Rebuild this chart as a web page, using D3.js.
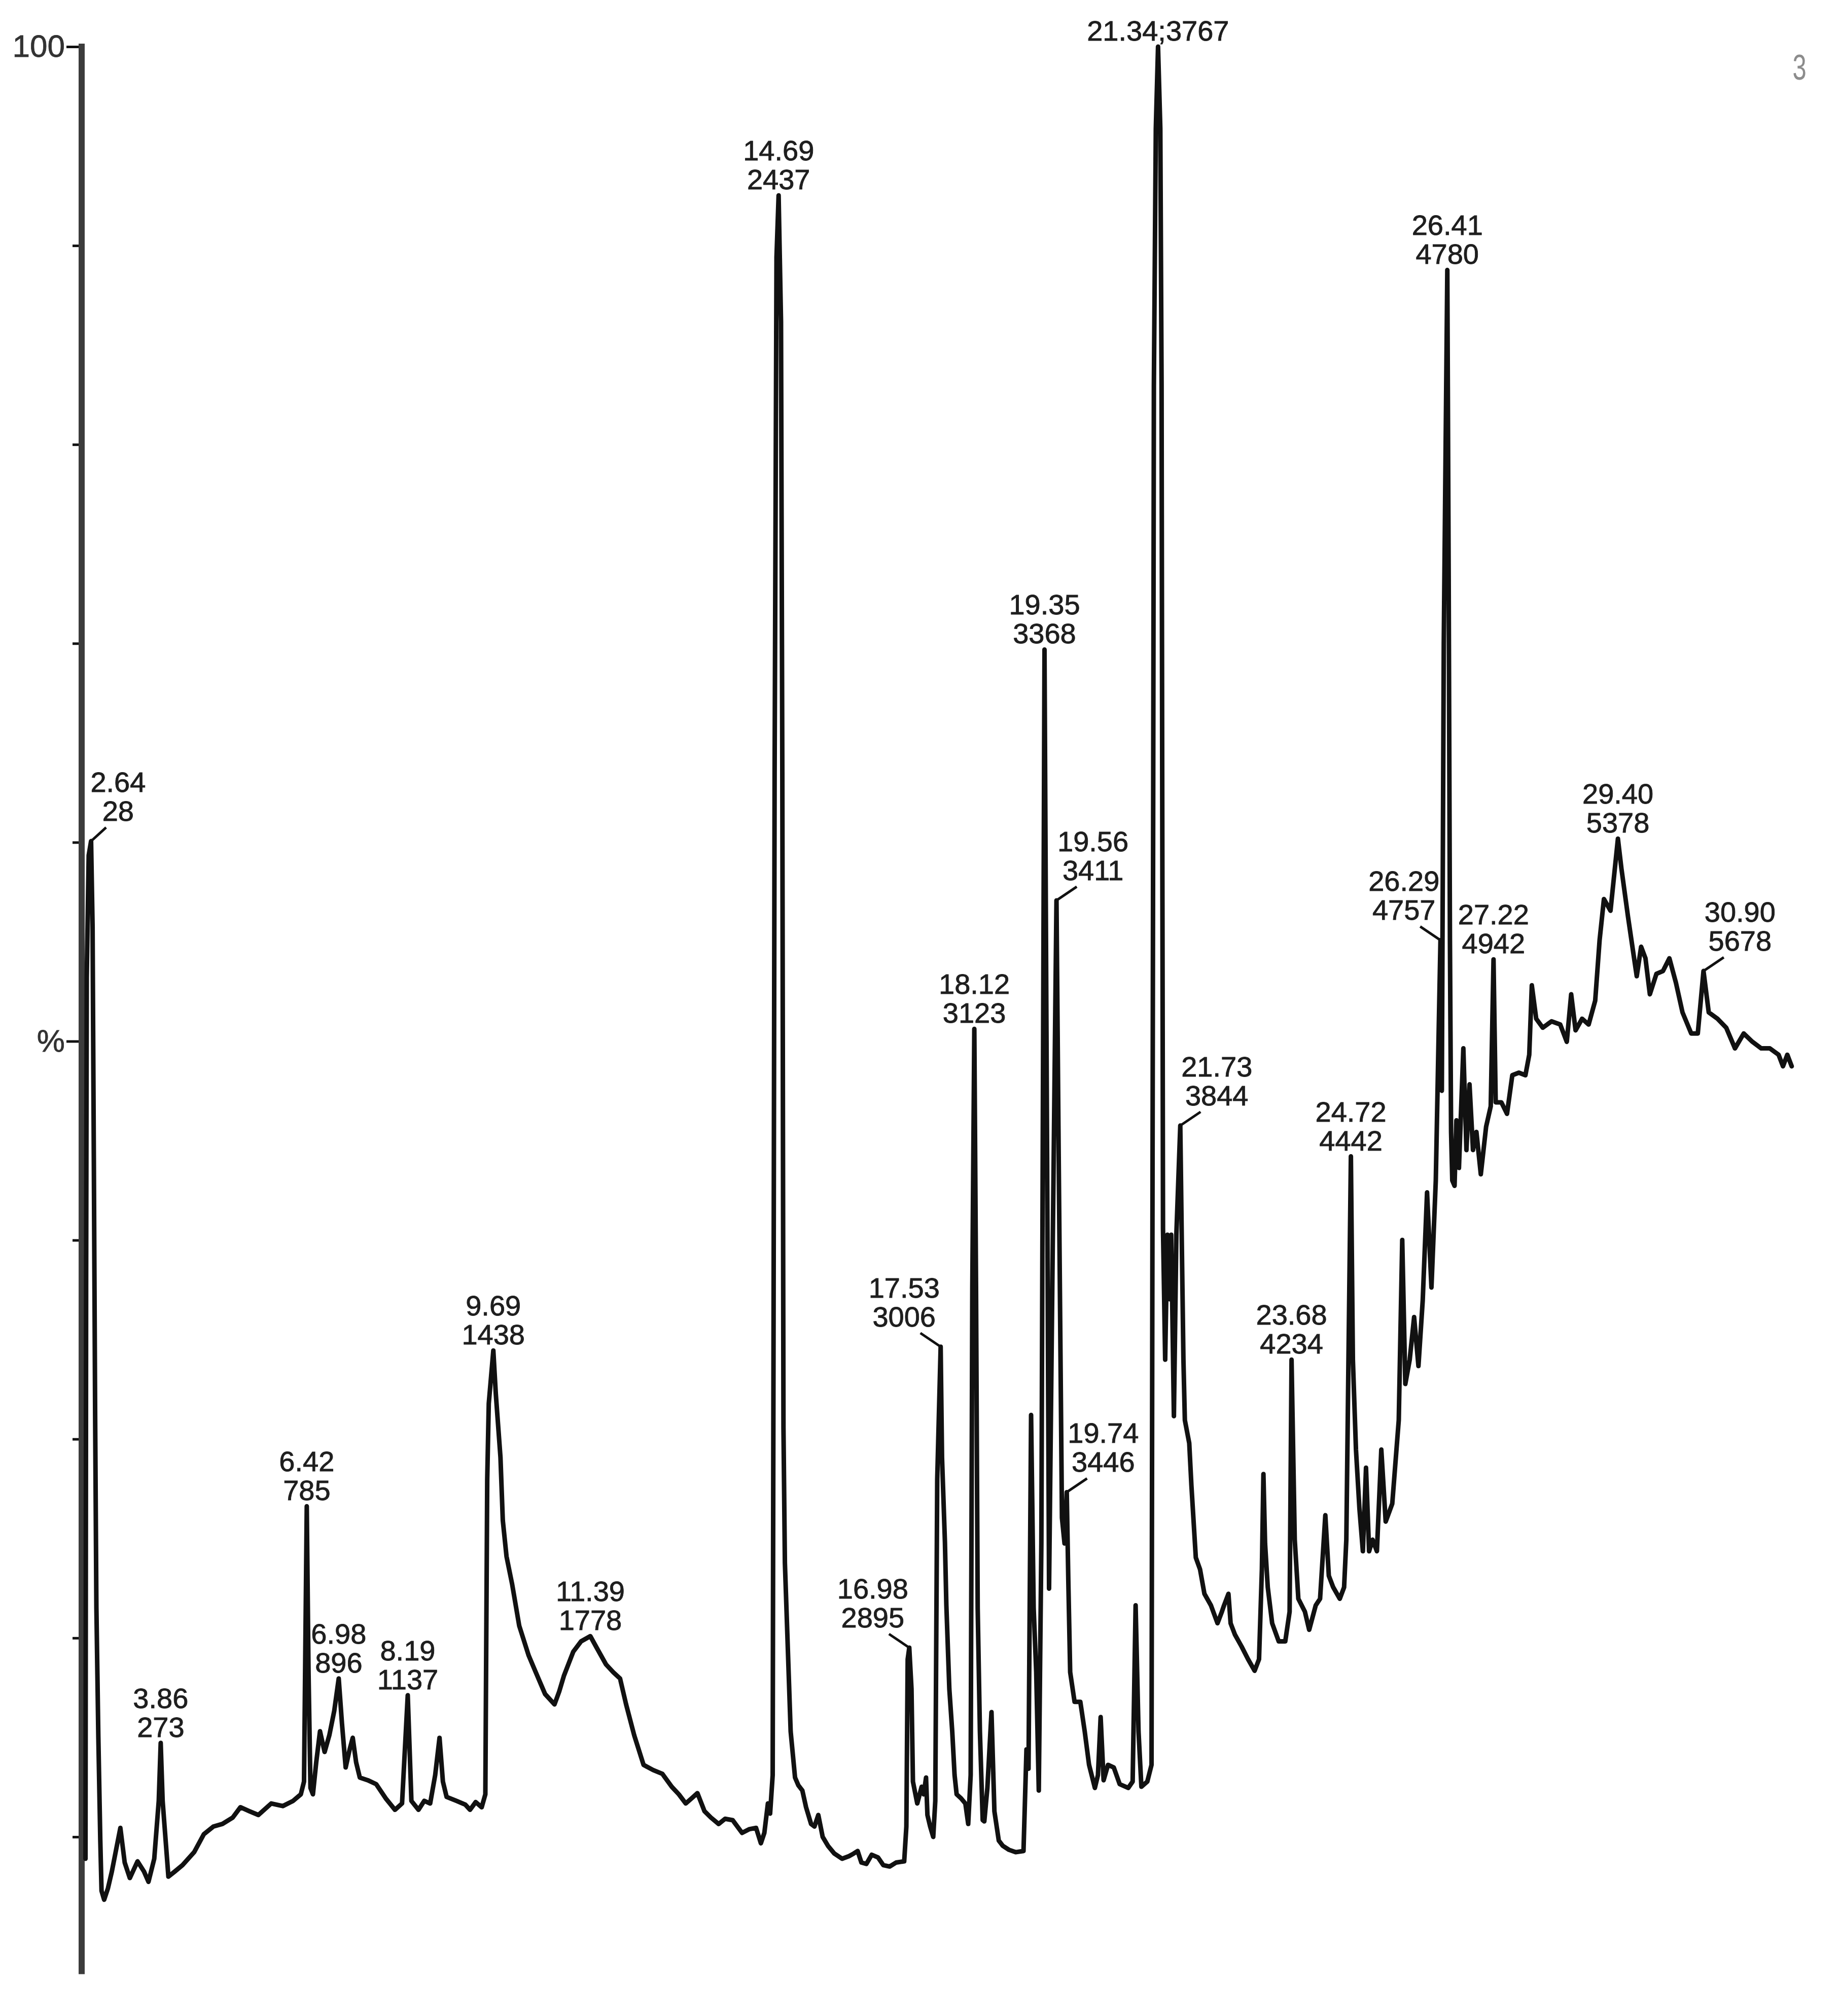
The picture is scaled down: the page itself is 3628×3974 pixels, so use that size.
<!DOCTYPE html>
<html>
<head>
<meta charset="utf-8">
<script src="https://cdn.jsdelivr.net/npm/d3@7"></script>
<style>html,body{margin:0;padding:0;background:#fff}</style>
</head>
<body>
<svg id="chart" width="3628" height="3974"></svg>
<script>
// ---------------- DATA ----------------
// retention time (min)
const retentionTime = [
2.542,2.553,2.564,2.598,2.640,2.666,2.688,2.711,2.733,2.767,2.801,2.823,2.869,2.936,3.004,3.153,3.229,3.319,3.454,3.567,
3.646,3.747,3.826,3.860,3.894,3.928,3.995,4.108,4.243,4.446,4.615,4.784,4.942,5.122,5.257,5.415,5.573,5.798,6.001,6.181,
6.316,6.372,6.420,6.451,6.485,6.528,6.586,6.652,6.733,6.816,6.902,6.980,7.037,7.102,7.172,7.226,7.285,7.350,7.488,7.637,
7.803,7.966,8.090,8.190,8.254,8.378,8.479,8.583,8.671,8.747,8.806,8.871,9.043,9.200,9.281,9.381,9.486,9.550,9.583,9.610,
9.690,9.734,9.815,9.856,9.921,10.021,10.144,10.309,10.433,10.597,10.762,10.845,10.926,11.091,11.228,11.390,11.501,11.665,11.791,11.911,
12.017,12.159,12.323,12.490,12.652,12.817,12.941,13.062,13.166,13.267,13.391,13.504,13.639,13.752,13.885,14.050,14.180,14.295,14.379,14.440,
14.502,14.541,14.586,14.620,14.653,14.690,14.732,14.755,14.775,14.800,14.851,14.901,14.978,15.036,15.106,15.171,15.259,15.318,15.386,15.462,
15.555,15.667,15.803,15.922,16.005,16.075,16.141,16.228,16.321,16.431,16.524,16.636,16.749,16.891,16.929,16.952,16.980,17.019,17.044,17.120,
17.197,17.233,17.274,17.298,17.346,17.400,17.436,17.470,17.530,17.554,17.605,17.630,17.682,17.733,17.774,17.810,17.887,17.963,18.013,18.056,
18.085,18.120,18.150,18.179,18.218,18.267,18.295,18.349,18.421,18.472,18.549,18.619,18.727,18.844,18.982,19.034,19.070,19.115,19.160,19.205,
19.250,19.295,19.350,19.396,19.430,19.487,19.560,19.599,19.656,19.701,19.740,19.768,19.800,19.877,19.978,20.055,20.131,20.233,20.287,20.334,
20.386,20.463,20.564,20.668,20.818,20.895,20.947,20.998,21.048,21.152,21.226,21.244,21.256,21.267,21.301,21.340,21.380,21.402,21.413,21.427,
21.465,21.503,21.542,21.571,21.618,21.661,21.730,21.756,21.785,21.810,21.887,21.925,22.002,22.076,22.153,22.267,22.382,22.459,22.497,22.574,
22.612,22.689,22.804,22.918,23.033,23.110,23.160,23.187,23.216,23.263,23.340,23.455,23.570,23.646,23.680,23.736,23.799,23.914,23.989,24.104,
24.180,24.272,24.333,24.410,24.525,24.601,24.640,24.720,24.755,24.809,24.870,24.930,24.985,25.039,25.100,25.176,25.253,25.330,25.445,25.559,
25.620,25.674,25.751,25.828,25.904,25.979,26.055,26.132,26.208,26.290,26.314,26.348,26.410,26.434,26.456,26.476,26.497,26.537,26.569,26.614,
26.691,26.745,26.799,26.860,26.920,26.997,27.090,27.171,27.220,27.258,27.357,27.456,27.549,27.664,27.779,27.846,27.891,27.968,28.083,28.236,
28.389,28.504,28.581,28.658,28.772,28.887,29.002,29.079,29.155,29.270,29.400,29.462,29.577,29.654,29.730,29.807,29.883,29.960,30.075,30.190,
30.302,30.417,30.532,30.685,30.800,30.900,30.992,31.145,31.298,31.452,31.605,31.758,31.912,32.063,32.216,32.293,32.369,32.446
];
// relative abundance (%)
const intensity = [
8.90,37.68,53.20,59.34,60.06,55.79,44.15,31.22,21.51,15.05,9.87,7.29,6.84,7.42,8.26,10.45,8.71,7.93,8.77,8.26,
7.74,8.90,11.81,14.72,11.81,10.52,8.00,8.26,8.58,9.23,10.13,10.52,10.65,10.97,11.49,11.29,11.10,11.68,11.55,11.81,
12.14,12.78,26.62,18.28,12.46,12.14,13.75,15.31,14.27,15.11,16.34,17.96,15.70,13.49,14.40,14.98,13.75,12.98,12.85,12.65,
11.94,11.36,11.68,17.12,11.81,11.36,11.81,11.68,13.11,14.98,12.78,12.01,11.81,11.62,11.36,11.75,11.49,12.14,27.98,31.79,
34.45,32.25,29.08,25.91,24.10,22.68,20.61,19.12,18.28,17.18,16.66,17.31,18.09,19.31,19.83,20.09,19.51,18.67,18.28,17.96,
16.66,15.11,13.62,13.36,13.17,12.52,12.14,11.68,11.94,12.20,11.29,10.97,10.65,10.91,10.84,10.20,10.39,10.45,9.68,10.20,
11.68,11.17,13.11,63.55,89.42,92.52,86.18,63.55,30.57,23.78,19.51,15.30,12.98,12.59,12.33,11.49,10.65,10.52,11.10,10.00,
9.55,9.16,8.90,9.03,9.16,9.29,8.71,8.64,9.10,8.97,8.58,8.51,8.71,8.77,10.52,18.93,19.51,17.44,12.78,11.68,
12.52,12.14,12.98,11.10,10.52,10.00,11.81,27.98,34.64,29.08,24.81,21.64,17.44,15.30,13.11,12.14,11.94,11.68,10.65,13.11,
37.68,50.62,37.68,21.51,15.30,10.84,10.78,12.46,16.27,11.29,9.81,9.55,9.35,9.23,9.29,14.40,13.43,31.21,21.51,18.28,
12.33,24.75,69.69,44.15,22.48,37.68,57.08,44.15,26.04,24.75,27.33,22.81,18.28,16.79,16.79,15.30,13.62,12.46,13.11,16.02,
12.85,13.62,13.49,12.65,12.46,12.78,21.64,15.30,12.52,12.78,13.62,44.15,63.55,82.95,95.88,100.00,95.88,82.95,63.55,40.59,
33.99,40.27,37.03,40.27,31.15,40.27,45.76,40.01,33.99,30.95,29.79,27.66,24.04,23.45,22.22,21.64,20.74,21.32,21.64,22.22,
20.74,20.16,19.57,18.93,18.35,18.93,23.45,28.24,24.75,22.55,20.74,19.83,19.83,21.32,33.99,24.94,21.97,21.32,20.41,21.64,
21.97,26.17,23.13,22.55,21.97,22.55,24.94,44.21,33.99,29.47,26.49,24.36,28.56,24.36,24.94,24.36,29.47,25.85,26.75,30.95,
40.01,32.77,33.99,36.13,33.67,36.97,42.40,37.62,43.00,55.08,47.51,70.02,88.77,73.25,55.08,45.44,43.00,42.73,46.02,43.63,
49.64,44.53,47.83,44.53,45.44,43.31,45.70,46.73,54.11,46.93,46.93,46.35,48.29,48.42,48.29,49.32,52.81,51.13,50.68,51.00,
50.84,49.97,52.36,50.55,51.13,50.84,52.04,55.08,57.15,56.56,60.18,58.67,56.26,54.75,53.27,54.75,54.17,52.36,53.39,53.53,
54.17,52.94,51.45,50.39,50.39,53.53,51.45,51.13,50.68,49.64,50.39,49.97,49.64,49.64,49.32,48.74,49.32,48.74
];

// labelled peaks: retention time and scan number
const peakTimes = [2.64,3.86,6.42,6.98,8.19,9.69,11.39,14.69,16.98,17.53,18.12,19.35,19.56,19.74,21.34,21.73,23.68,24.72,26.29,26.41,27.22,29.40,30.90];
const peakScans = [28,273,785,896,1137,1438,1778,2437,2895,3006,3123,3368,3411,3446,3767,3844,4234,4442,4757,4780,4942,5378,5678];

// y axis ticks
const yTickValues = [10,20,30,40,50,60,70,80,90,100];
const yTickText   = ["","","","","%","","","","","100"];
const cornerText = "3";

// ---------------- LAYOUT ----------------
const W = 3628, H = 3974;
// leader direction per label (0 = centred above, ±1 = offset with a leader line)
const leaderSide = [0.74,0,0,0,0,0,0,0,-1,-1,0,0,1,1,0,1,0,0,-1,0,0,0,1];
const singleLine = peakTimes.map(t => t === 21.34);
const axisFloor = 3.1;   // % value where the drawn axis line stops (picture is cropped)
const fontFam = "'Liberation Sans', Arial, Helvetica, sans-serif";

const svg = d3.select("#chart");
svg.append("rect").attr("width", W).attr("height", H).attr("fill", "#fff");

const x = d3.scaleLinear().domain([0, 32]).range([-117.4, 3482.6]);
const y = d3.scaleLinear().domain([0, 100]).range([4013, 92]);

// ---- y axis ----
const axisX = 161;
const yAxis = d3.axisLeft(y)
  .tickValues(yTickValues)
  .tickSize(18)
  .tickFormat((d, i) => yTickText[i]);
const gA = svg.append("g").attr("transform", `translate(${axisX},0)`).call(yAxis);
gA.select(".domain").remove();
gA.selectAll(".tick line")
  .attr("stroke", "#111")
  .attr("stroke-width", 5)
  .attr("x2", d => yTickText[yTickValues.indexOf(d)] ? -30 : -18);
gA.selectAll(".tick text")
  .attr("x", -33)
  .attr("font-size", 62)
  .attr("font-family", fontFam)
  .attr("fill", "#333")
  .attr("stroke", "#333")
  .attr("stroke-width", 0.8);

svg.append("line")
  .attr("x1", axisX).attr("x2", axisX)
  .attr("y1", y(100) - 6).attr("y2", y(axisFloor))
  .attr("stroke", "#3c3c3c").attr("stroke-width", 12);

// ---- trace ----
const trace = retentionTime.map((t, i) => ({ t: t, v: intensity[i] }));
svg.append("path")
  .datum(trace)
  .attr("d", d3.line().x(d => x(d.t)).y(d => y(d.v)))
  .attr("fill", "none")
  .attr("stroke", "#111")
  .attr("stroke-width", 9)
  .attr("stroke-linejoin", "round")
  .attr("stroke-linecap", "round");

// ---- peak labels ----
const lblG = svg.append("g")
  .attr("font-family", fontFam)
  .attr("font-size", 56)
  .attr("fill", "#1e1e1e")
  .attr("stroke", "#1e1e1e")
  .attr("stroke-width", 0.9)
  .attr("text-anchor", "middle");

peakTimes.forEach((pt, i) => {
  const p = d3.least(trace, d => Math.abs(d.t - pt));
  const px = x(p.t), py = y(p.v);
  const side = leaderSide[i];
  let lx = px, base = py - 12;
  if (side !== 0) {
    lblG.append("line")
      .attr("x1", px).attr("y1", py)
      .attr("x2", px + side * 40).attr("y2", py - 27)
      .attr("stroke", "#111").attr("stroke-width", 5);
    lx = px + side * 72;
    base = py - 40;
  }
  const txt = lblG.append("text");
  if (singleLine[i]) {
    txt.attr("x", lx).attr("y", base).text(pt.toFixed(2) + ";" + peakScans[i]);
  } else {
    txt.append("tspan").attr("x", lx).attr("y", base - 57).text(pt.toFixed(2));
    txt.append("tspan").attr("x", lx).attr("y", base).text(String(peakScans[i]));
  }
});

// ---- corner mark ----
svg.append("text")
  .attr("transform", "translate(3548,157) scale(0.7,1)")
  .attr("text-anchor", "middle")
  .attr("font-family", fontFam)
  .attr("font-size", 70)
  .attr("fill", "#8c8c8c")
  .text(cornerText);
</script>
</body>
</html>
